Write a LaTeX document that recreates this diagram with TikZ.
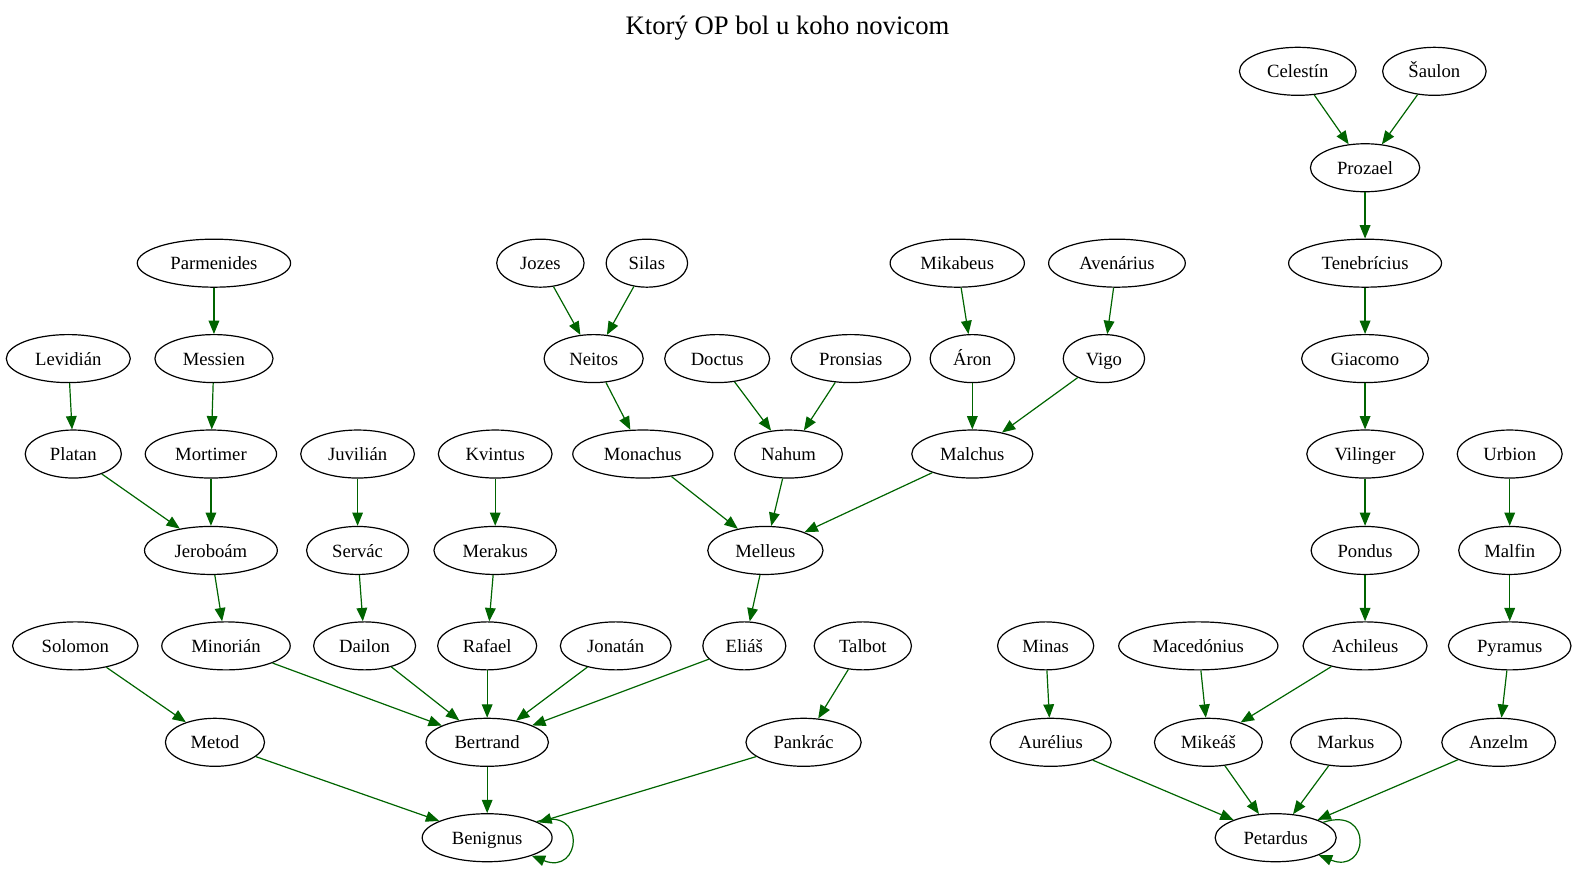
\documentclass[tikz,border=0pt]{standalone}
\usepackage{fontspec}
\setmainfont{Liberation Serif}
\usetikzlibrary{arrows.meta,shapes.geometric}
\definecolor{edgegreen}{RGB}{0,100,0}
\tikzset{
  monk/.style={ellipse,draw,line width=0.9pt,inner xsep=8pt,inner ysep=2pt,
    text height=12pt,text depth=2pt,
    minimum width=54pt,minimum height=36pt,font=\fontsize{14}{16}\selectfont},
  novice/.style={draw=edgegreen,line width=0.9pt,-{Triangle[length=10pt,width=8pt,fill=edgegreen]}}
}
\begin{document}
\begin{tikzpicture}[x=0.7533pt,y=-0.7533pt]
  \useasboundingbox (0,0) rectangle (1568,865);
  \node[font=\fontsize{20}{24}\selectfont] (title) at (784,28) {Ktorý OP bol u koho novicom};

  % right trees
  \node[monk] (celestin) at (1292,71) {Celestín};
  \node[monk] (saulon) at (1428,71) {Šaulon};
  \node[monk] (prozael) at (1359,167) {Prozael};
  \node[monk] (tenebricius) at (1359,262) {Tenebrícius};
  \node[monk] (giacomo) at (1359,357) {Giacomo};
  \node[monk] (vilinger) at (1359,452) {Vilinger};
  \node[monk] (urbion) at (1503,452) {Urbion};
  \node[monk] (pondus) at (1359,548) {Pondus};
  \node[monk] (malfin) at (1503,548) {Malfin};
  \node[monk] (minas) at (1041,643) {Minas};
  \node[monk] (macedonius) at (1193,643) {Macedónius};
  \node[monk] (achileus) at (1359,643) {Achileus};
  \node[monk] (pyramus) at (1503,643) {Pyramus};
  \node[monk] (aurelius) at (1046,739) {Aurélius};
  \node[monk] (mikeas) at (1203,739) {Mikeáš};
  \node[monk] (markus) at (1340,739) {Markus};
  \node[monk] (anzelm) at (1492,739) {Anzelm};
  \node[monk] (petardus) at (1270,834) {Petardus};

  % left trees
  \node[monk] (parmenides) at (213,262) {Parmenides};
  \node[monk] (jozes) at (538,262) {Jozes};
  \node[monk] (silas) at (644,262) {Silas};
  \node[monk] (mikabeus) at (953,262) {Mikabeus};
  \node[monk] (avenarius) at (1112,262) {Avenárius};
  \node[monk] (levidian) at (68,357) {Levidián};
  \node[monk] (messien) at (213,357) {Messien};
  \node[monk] (neitos) at (591,357) {Neitos};
  \node[monk] (doctus) at (714,357) {Doctus};
  \node[monk] (pronsias) at (847,357) {Pronsias};
  \node[monk] (aron) at (968,357) {Áron};
  \node[monk] (vigo) at (1099,357) {Vigo};
  \node[monk] (platan) at (73,452) {Platan};
  \node[monk] (mortimer) at (210,452) {Mortimer};
  \node[monk] (juvilian) at (356,452) {Juvilián};
  \node[monk] (kvintus) at (493,452) {Kvintus};
  \node[monk] (monachus) at (640,452) {Monachus};
  \node[monk] (nahum) at (785,452) {Nahum};
  \node[monk] (malchus) at (968,452) {Malchus};
  \node[monk] (jeroboam) at (210,548) {Jeroboám};
  \node[monk] (servac) at (356,548) {Servác};
  \node[monk] (merakus) at (493,548) {Merakus};
  \node[monk] (melleus) at (762,548) {Melleus};
  \node[monk] (solomon) at (75,643) {Solomon};
  \node[monk] (minorian) at (225,643) {Minorián};
  \node[monk] (dailon) at (363,643) {Dailon};
  \node[monk] (rafael) at (485,643) {Rafael};
  \node[monk] (jonatan) at (613,643) {Jonatán};
  \node[monk] (elias) at (741,643) {Eliáš};
  \node[monk] (talbot) at (859,643) {Talbot};
  \node[monk] (metod) at (214,739) {Metod};
  \node[monk] (bertrand) at (485,739) {Bertrand};
  \node[monk] (pankrac) at (800,739) {Pankrác};
  \node[monk] (benignus) at (485,834) {Benignus};

  \path[novice] (celestin) edge (prozael)
    (saulon) edge (prozael)
    (prozael) edge (tenebricius)
    (tenebricius) edge (giacomo)
    (giacomo) edge (vilinger)
    (vilinger) edge (pondus)
    (pondus) edge (achileus)
    (achileus) edge (mikeas)
    (urbion) edge (malfin)
    (malfin) edge (pyramus)
    (pyramus) edge (anzelm)
    (minas) edge (aurelius)
    (macedonius) edge (mikeas)
    (aurelius) edge (petardus)
    (mikeas) edge (petardus)
    (markus) edge (petardus)
    (anzelm) edge (petardus);
  \path[novice] (petardus) edge[out=18,in=-22,distance=40pt] (petardus);

  \path[novice] (parmenides) edge (messien)
    (messien) edge (mortimer)
    (mortimer) edge (jeroboam)
    (levidian) edge (platan)
    (platan) edge (jeroboam)
    (jeroboam) edge (minorian)
    (juvilian) edge (servac)
    (servac) edge (dailon)
    (kvintus) edge (merakus)
    (merakus) edge (rafael)
    (jozes) edge (neitos)
    (silas) edge (neitos)
    (neitos) edge (monachus)
    (doctus) edge (nahum)
    (pronsias) edge (nahum)
    (mikabeus) edge (aron)
    (avenarius) edge (vigo)
    (aron) edge (malchus)
    (vigo) edge (malchus)
    (monachus) edge (melleus)
    (nahum) edge (melleus)
    (malchus) edge (melleus)
    (melleus) edge (elias)
    (minorian) edge (bertrand)
    (dailon) edge (bertrand)
    (rafael) edge (bertrand)
    (jonatan) edge (bertrand)
    (elias) edge (bertrand)
    (talbot) edge (pankrac)
    (solomon) edge (metod)
    (metod) edge (benignus)
    (bertrand) edge (benignus)
    (pankrac) edge (benignus);
  \path[novice] (benignus) edge[out=18,in=-22,distance=40pt] (benignus);
\end{tikzpicture}
\end{document}
